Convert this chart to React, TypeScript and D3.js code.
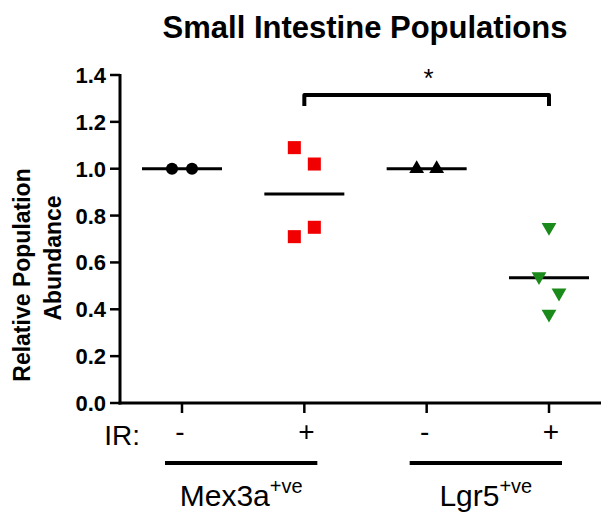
import React from "react";
import * as d3 from "d3";

const categories = ["Mex3a -", "Mex3a +", "Lgr5 -", "Lgr5 +"];
const irLabels = ["-", "+", "-", "+"];
const mex3aNeg = [1.0, 1.0];
const mex3aPos = [1.09, 1.02, 0.75, 0.71];
const lgr5Neg = [1.0, 1.0];
const lgr5Pos = [0.75, 0.54, 0.47, 0.38];
const jitter = [[-10, 10], [-10, 10, 10, -10], [-10, 10], [0, -10, 10, 0]];
const yTicks = [0, 0.2, 0.4, 0.6, 0.8, 1.0, 1.2, 1.4];
const groups = [
  { name: "Mex3a", from: 0, to: 1 },
  { name: "Lgr5", from: 2, to: 3 },
];

const W = 604, H = 514;

export default function App() {
  const y = d3.scaleLinear().domain([0, 1.4]).range([403, 75]);
  const x = d3.scalePoint<string>().domain(categories).range([182, 549]);
  const axisX = 120;
  const series = [mex3aNeg, mex3aPos, lgr5Neg, lgr5Pos];
  const font = "Arial, 'Liberation Sans', Helvetica, sans-serif";
  const sym = [d3.symbolCircle, d3.symbolSquare, d3.symbolTriangle, d3.symbolTriangle];
  const sizes = [115, 170, 95, 95];
  const colors = ["#000", "#f00000", "#000", "#1a8a1a"];

  return (
    <svg width={W} height={H} style={{ position: "absolute", left: 0, top: 0, background: "#fff" }}>
      <text x={365} y={38} textAnchor="middle" fontFamily={font} fontWeight="bold" fontSize={31}>
        Small Intestine Populations
      </text>
      {/* y axis */}
      <line x1={axisX} x2={axisX} y1={y(1.4) - 1} y2={y(0) + 1.5} stroke="#000" strokeWidth={3} />
      {yTicks.map((t) => (
        <g key={t}>
          <line x1={axisX - 10} x2={axisX} y1={y(t)} y2={y(t)} stroke="#000" strokeWidth={2.5} />
          <text x={axisX - 14} y={y(t) + 8} textAnchor="end" fontFamily={font} fontWeight="bold" fontSize={22}>
            {t.toFixed(1)}
          </text>
        </g>
      ))}
      <text transform={`translate(30,275) rotate(-90)`} textAnchor="middle" fontFamily={font} fontWeight="bold" fontSize={23}>
        Relative Population
      </text>
      <text transform={`translate(61,258) rotate(-90)`} textAnchor="middle" fontFamily={font} fontWeight="bold" fontSize={23}>
        Abundance
      </text>
      {/* x axis */}
      <line x1={axisX - 1.5} x2={601} y1={y(0)} y2={y(0)} stroke="#000" strokeWidth={3} />
      {categories.map((c, i) => (
        <g key={c}>
          <line x1={x(c)} x2={x(c)} y1={y(0)} y2={y(0) + 10} stroke="#000" strokeWidth={2.5} />
          <text x={x(c)! + (irLabels[i] === "+" ? 2 : -2)} y={441} textAnchor="middle" fontFamily={font} fontSize={28}>
            {irLabels[i]}
          </text>
        </g>
      ))}
      <text x={140} y={445} textAnchor="end" fontFamily={font} fontSize={28}>IR:</text>
      {groups.map((g) => {
        const x0 = x(categories[g.from])! - 17;
        const x1 = x(categories[g.to])! + 13;
        return (
          <g key={g.name}>
            <line x1={x0} x2={x1} y1={463} y2={463} stroke="#000" strokeWidth={4} />
            <text x={(x0 + x1) / 2} y={506} textAnchor="middle" fontFamily={font} fontSize={30}>
              {g.name}
              <tspan fontSize={20} dy={-13}>+ve</tspan>
            </text>
          </g>
        );
      })}
      {/* significance bracket */}
      <path
        d={`M${x(categories[1])},${106} V${95} H${x(categories[3])} V${106}`}
        fill="none" stroke="#000" strokeWidth={4} strokeLinejoin="round"
      />
      <text x={(x(categories[1])! + x(categories[3])!) / 2 + 2} y={87} textAnchor="middle" fontFamily={font} fontSize={26}>*</text>
      {/* points and means */}
      {series.map((vals, i) => {
        const cx = x(categories[i])!;
        const mean = d3.mean(vals)!;
        const path = d3.symbol().type(sym[i]).size(sizes[i])()!;
        return (
          <g key={i}>
            <line x1={cx - 40} x2={cx + 40} y1={y(mean)} y2={y(mean)} stroke="#000" strokeWidth={3} />
            {vals.map((v, j) => (
              <path
                key={j}
                d={path}
                transform={`translate(${cx + jitter[i][j]},${y(v)})${i === 3 ? " rotate(180)" : ""}`}
                fill={colors[i]}
              />
            ))}
          </g>
        );
      })}
    </svg>
  );
}
